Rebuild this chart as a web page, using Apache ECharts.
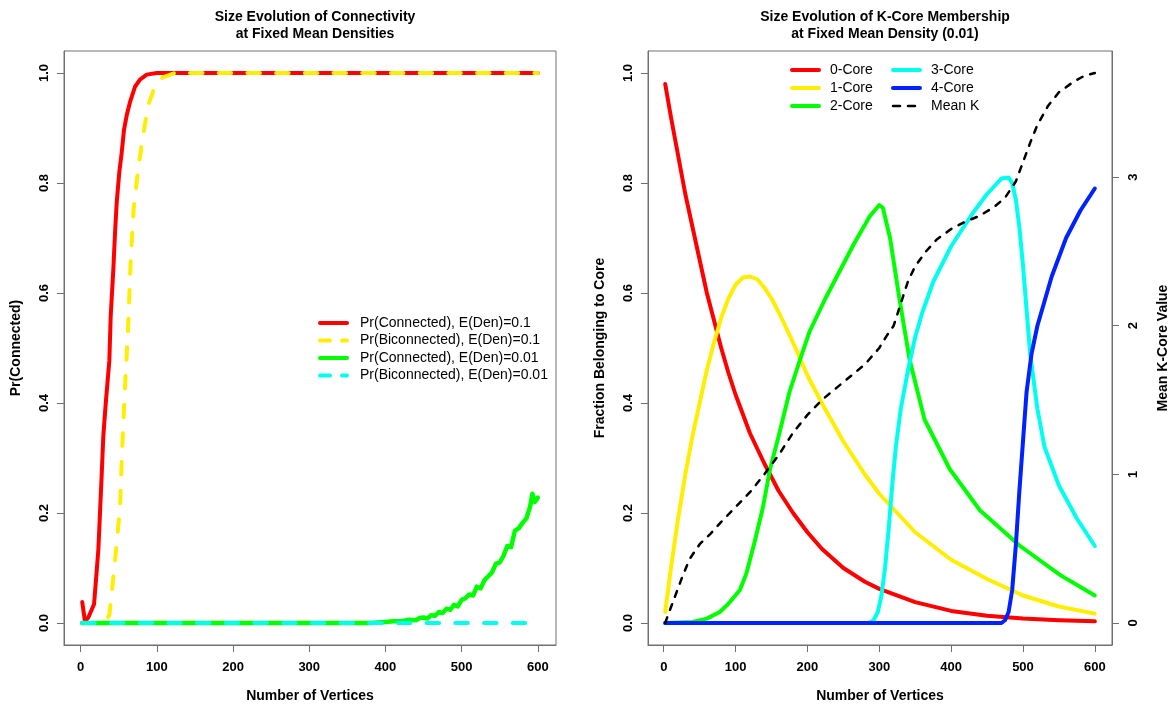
<!DOCTYPE html>
<html>
<head>
<meta charset="utf-8">
<script src="https://cdn.jsdelivr.net/npm/echarts@6/dist/echarts.min.js"></script>
<style>
html, body { margin: 0; padding: 0; background: #fff; }
#chart { width: 1170px; height: 706px; }
</style>
</head>
<body>
<div id="chart"></div>
<script>
// ---- Left panel: connectivity probabilities vs. number of vertices ----
const connHiN = [2, 5.6, 10, 14.4, 17.5, 20.1, 23.2, 25.4, 27.6, 29.7, 33.2, 37.6, 39.4, 42.8, 45.1, 47.3, 50.7, 53.8, 56.8, 60.4, 64.7, 71.3, 77.8, 86.6, 99.8, 130, 600];
const connHiP = [0.038, 0.003, 0.01, 0.024, 0.034, 0.079, 0.134, 0.202, 0.271, 0.34, 0.405, 0.477, 0.559, 0.642, 0.71, 0.765, 0.82, 0.855, 0.896, 0.923, 0.947, 0.975, 0.988, 0.997, 1.0, 1.0, 1.0];

const biconHiN = [2, 29.7, 37.6, 42, 45, 51.6, 54.2, 57.8, 62.1, 65.6, 69.6, 75.6, 81.4, 88.3, 96.2, 107.6, 123.8, 600];
const biconHiP = [0, 0, 0.014, 0.072, 0.113, 0.209, 0.309, 0.419, 0.532, 0.659, 0.755, 0.827, 0.882, 0.94, 0.971, 0.992, 1.0, 1.0];

const connLoN = [2, 380, 390, 400, 410, 420, 430, 440, 445, 450, 455, 460, 465, 470, 475, 480, 485, 490, 495, 500, 505, 510, 515, 520, 525, 530, 535, 540, 545, 550, 555, 560, 565, 570, 575, 580, 585, 590, 593, 596, 600];
const connLoP = [0, 0, 0.001, 0.002, 0.003, 0.003, 0.006, 0.005, 0.009, 0.01, 0.008, 0.014, 0.013, 0.02, 0.018, 0.026, 0.024, 0.033, 0.03, 0.042, 0.045, 0.052, 0.05, 0.066, 0.063, 0.078, 0.085, 0.092, 0.108, 0.11, 0.122, 0.14, 0.138, 0.168, 0.172, 0.182, 0.19, 0.212, 0.235, 0.22, 0.228];

const biconLoN = [2, 600];
const biconLoP = [0, 0];

// ---- Right panel: k-core membership fractions and mean k ----
const core0N = [2, 10, 20, 30, 40, 50, 60, 70, 80, 90, 100, 120, 140, 160, 180, 200, 220, 250, 280, 300, 350, 400, 450, 500, 550, 600];
const core0F = [0.98, 0.92, 0.85, 0.78, 0.72, 0.66, 0.60, 0.55, 0.50, 0.455, 0.415, 0.345, 0.29, 0.24, 0.20, 0.165, 0.135, 0.10, 0.075, 0.062, 0.038, 0.022, 0.013, 0.008, 0.005, 0.003];

const core1N = [2, 10, 20, 30, 40, 50, 60, 70, 80, 90, 100, 110, 120, 130, 140, 150, 160, 180, 200, 220, 250, 280, 300, 350, 400, 450, 500, 550, 600];
const core1F = [0.02, 0.1, 0.19, 0.27, 0.34, 0.40, 0.46, 0.51, 0.555, 0.59, 0.615, 0.628, 0.63, 0.625, 0.61, 0.59, 0.565, 0.51, 0.45, 0.40, 0.33, 0.27, 0.235, 0.165, 0.115, 0.08, 0.05, 0.03, 0.017];

const core2N = [2, 40, 60, 78, 90, 106, 115, 127, 138, 148, 160, 175, 190, 203, 225, 245, 265, 287, 300, 305, 315, 328, 342, 363, 398, 440, 496, 552, 600];
const core2F = [0, 0.002, 0.008, 0.02, 0.035, 0.06, 0.09, 0.15, 0.21, 0.28, 0.34, 0.42, 0.48, 0.53, 0.59, 0.64, 0.69, 0.74, 0.76, 0.755, 0.70, 0.59, 0.48, 0.37, 0.28, 0.205, 0.14, 0.087, 0.05];

const core3N = [2, 285, 292, 298, 303, 308, 313, 318, 323, 330, 340, 350, 360, 375, 400, 430, 450, 470, 480, 485, 490, 495, 500, 505, 510, 520, 530, 550, 575, 600];
const core3F = [0, 0, 0.005, 0.02, 0.05, 0.1, 0.17, 0.25, 0.32, 0.39, 0.46, 0.52, 0.565, 0.62, 0.685, 0.745, 0.78, 0.808, 0.81, 0.80, 0.77, 0.72, 0.65, 0.57, 0.49, 0.39, 0.32, 0.25, 0.19, 0.14];

const core4N = [2, 470, 475, 480, 485, 490, 495, 500, 505, 512, 520, 540, 560, 580, 600];
const core4F = [0, 0, 0.005, 0.02, 0.06, 0.14, 0.24, 0.33, 0.42, 0.49, 0.54, 0.63, 0.70, 0.75, 0.79];

const meanKN = [2, 8, 15, 25, 36, 50, 65, 80, 100, 120, 140, 160, 180, 200, 220, 240, 260, 280, 300, 310, 320, 330, 340, 350, 365, 380, 400, 420, 440, 460, 475, 490, 500, 510, 520, 535, 550, 570, 585, 600];
const meanKV = [0, 0.08, 0.17, 0.3, 0.43, 0.53, 0.6, 0.68, 0.78, 0.88, 1.0, 1.13, 1.28, 1.4, 1.5, 1.58, 1.66, 1.74, 1.85, 1.93, 2.0, 2.15, 2.3, 2.4, 2.5, 2.58, 2.65, 2.7, 2.74, 2.8, 2.86, 2.97, 3.1, 3.23, 3.35, 3.48, 3.57, 3.64, 3.68, 3.70];

// ---- Tick labels ----
const xTicks = [0, 100, 200, 300, 400, 500, 600];
const fracTicks = [0, 0.2, 0.4, 0.6, 0.8, 1.0];
const meanKTicks = [0, 1, 2, 3];

// ---- Helpers ----
const zip = (xs, ys) => xs.map((x, i) => [x, ys[i]]);
const FONT = '"Liberation Sans", Arial, Helvetica, sans-serif';
const AXIS_COL = '#707070';

// axis ranges padded by 4% on each side of the data range
const pad = (lo, hi) => [lo - 0.04 * (hi - lo), hi + 0.04 * (hi - lo)];
const xRange = pad(2, 600);
const fRange = pad(0, 1);
const kRange = pad(0, 3.70);

const tickLabelStyle = { fontFamily: FONT, fontWeight: 'bold', fontSize: 13, color: '#000' };
const nameStyle = { fontFamily: FONT, fontWeight: 'bold', fontSize: 14, color: '#000' };
const titleStyle = { fontFamily: FONT, fontWeight: 'bold', fontSize: 14, lineHeight: 17, color: '#000' };
const legendText = { fontFamily: FONT, fontSize: 14, color: '#000' };

function xAxisFor(gridIndex) {
  return {
    type: 'value', gridIndex,
    min: xRange[0], max: xRange[1],
    axisLine: { show: true, onZero: false, lineStyle: { color: AXIS_COL, width: 1 } },
    axisTick: { show: true, length: 7, customValues: xTicks, lineStyle: { color: AXIS_COL } },
    axisLabel: Object.assign({ customValues: xTicks, margin: 16 }, tickLabelStyle),
    splitLine: { show: false },
    name: 'Number of Vertices', nameLocation: 'middle', nameGap: 44,
    nameTextStyle: nameStyle
  };
}

function yAxisFor(gridIndex, name, range, ticks, fmt, position, labelMargin, nameGap) {
  return {
    type: 'value', gridIndex, position,
    min: range[0], max: range[1],
    axisLine: { show: true, onZero: false, lineStyle: { color: AXIS_COL, width: 1 } },
    axisTick: { show: true, length: 7, customValues: ticks, lineStyle: { color: AXIS_COL } },
    axisLabel: Object.assign({ customValues: ticks, margin: labelMargin, rotate: 90, formatter: fmt }, tickLabelStyle),
    splitLine: { show: false },
    name, nameLocation: 'middle', nameGap, nameRotate: 90,
    nameTextStyle: nameStyle
  };
}

function line(name, data, color, xi, yi, dashed, width) {
  return {
    name, type: 'line', xAxisIndex: xi, yAxisIndex: yi,
    data, symbol: 'none', smooth: false, animation: false,
    lineStyle: {
      color, width: width || 4,
      type: dashed || 'solid', cap: 'round', join: 'round'
    },
    itemStyle: { color }
  };
}

const DASH = [12.5, 16.2];
const KDASH = [6, 8];

// legend swatches: plain line, no marker
const legendBase = {
  orient: 'vertical', padding: 0, selectedMode: false,
  itemWidth: 27,
  itemStyle: { opacity: 0 },
  lineStyle: { width: 4 }
};
const dashedSwatch = { lineStyle: { type: [10, 12] } };

const option = {
  backgroundColor: '#fff',
  animation: false,
  title: [
    {
      text: 'Size Evolution of Connectivity\nat Fixed Mean Densities',
      left: 310, top: 4, textAlign: 'center', textStyle: titleStyle
    },
    {
      text: 'Size Evolution of K-Core Membership\nat Fixed Mean Density (0.01)',
      left: 880, top: 4, textAlign: 'center', textStyle: titleStyle
    }
  ],
  grid: [
    { left: 64, right: 614, top: 51, bottom: 61, outerBoundsMode: 'none', containLabel: false,
      show: true, borderColor: AXIS_COL, borderWidth: 1, backgroundColor: 'transparent' },
    { left: 648, right: 58, top: 51, bottom: 61, outerBoundsMode: 'none', containLabel: false,
      show: true, borderColor: AXIS_COL, borderWidth: 1, backgroundColor: 'transparent' }
  ],
  xAxis: [xAxisFor(0), xAxisFor(1)],
  yAxis: [
    yAxisFor(0, 'Pr(Connected)', fRange, fracTicks, v => v.toFixed(1), 'left', 13, 41),
    yAxisFor(1, 'Fraction Belonging to Core', fRange, fracTicks, v => v.toFixed(1), 'left', 13, 41),
    yAxisFor(1, 'Mean K-Core Value', kRange, meanKTicks, v => String(v), 'right', 15, 44)
  ],
  legend: [
    Object.assign({}, legendBase, {
      left: 318, top: 316, itemHeight: 14, itemGap: 3.5,
      data: [
        { name: 'Pr(Connected), E(Den)=0.1' },
        Object.assign({ name: 'Pr(Biconnected), E(Den)=0.1' }, dashedSwatch),
        { name: 'Pr(Connected), E(Den)=0.01' },
        Object.assign({ name: 'Pr(Biconnected), E(Den)=0.01' }, dashedSwatch)
      ],
      textStyle: Object.assign({ lineHeight: 14, padding: [0, 0, 0, 8] }, legendText)
    }),
    Object.assign({}, legendBase, {
      left: 790, top: 63, itemHeight: 13, itemGap: 4,
      data: ['0-Core', '1-Core', '2-Core'],
      textStyle: Object.assign({ lineHeight: 13, padding: [0, 0, 0, 6] }, legendText)
    }),
    Object.assign({}, legendBase, {
      left: 891, top: 63, itemHeight: 13, itemGap: 4,
      data: ['3-Core', '4-Core', { name: 'Mean K', lineStyle: { width: 2.5, type: [7, 8] } }],
      textStyle: Object.assign({ lineHeight: 13, padding: [0, 0, 0, 6] }, legendText)
    })
  ],
  series: [
    line('Pr(Connected), E(Den)=0.1', zip(connHiN, connHiP), '#ff0000', 0, 0),
    line('Pr(Biconnected), E(Den)=0.1', zip(biconHiN, biconHiP), '#ffee00', 0, 0, DASH),
    line('Pr(Connected), E(Den)=0.01', zip(connLoN, connLoP), '#00ff00', 0, 0, null, 4.5),
    line('Pr(Biconnected), E(Den)=0.01', zip(biconLoN, biconLoP), '#00ffee', 0, 0, DASH),

    line('0-Core', zip(core0N, core0F), '#ff0000', 1, 1),
    line('1-Core', zip(core1N, core1F), '#ffee00', 1, 1),
    line('2-Core', zip(core2N, core2F), '#00ff00', 1, 1),
    line('3-Core', zip(core3N, core3F), '#00ffee', 1, 1),
    line('4-Core', zip(core4N, core4F), '#0022ff', 1, 1),
    line('Mean K', zip(meanKN, meanKV), '#000000', 1, 2, KDASH, 2.5)
  ]
};

const chart = echarts.init(document.getElementById('chart'), null, { renderer: 'canvas' });
chart.setOption(option);
</script>
</body>
</html>
